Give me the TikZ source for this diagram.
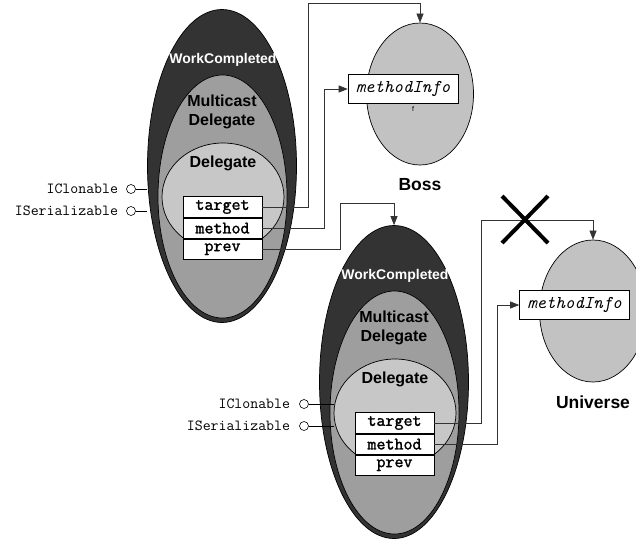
\documentclass[tikz,border=0pt]{standalone}
\usepackage{fontspec}
\setmainfont{Liberation Sans}
\setmonofont{Latin Modern Mono}[AutoFakeBold=1.6]
\usetikzlibrary{shapes.geometric,arrows.meta,positioning}

\definecolor{wcdark}{gray}{0.2}
\definecolor{mcgray}{gray}{0.62}
\definecolor{dlgray}{gray}{0.78}
\definecolor{objgray}{gray}{0.76}

\tikzset{
  blob/.style={ellipse, draw=black, line width=0.7pt, inner sep=0pt},
  wclbl/.style={text=white, font=\fontsize{14}{15}\selectfont\bfseries},
  lbl/.style={align=center, font=\fontsize{16}{19}\selectfont\bfseries},
  objlbl/.style={font=\fontsize{17.5}{18}\selectfont\bfseries},
  field/.style={draw=black, fill=white, line width=0.6pt, minimum width=79pt,
    minimum height=20.5pt, inner sep=0pt, font=\fontsize{17.5}{17.5}\selectfont\ttfamily\bfseries},
  infobox/.style={draw=black, fill=white, line width=0.6pt, minimum width=110pt,
    minimum height=29pt, inner sep=0pt, font=\fontsize{18}{18}\selectfont\ttfamily\itshape},
  lolli/.style={circle, draw=black, fill=white, line width=0.6pt, minimum size=9pt, inner sep=0pt},
  iface/.style={inner sep=0pt, font=\fontsize{15.4}{16}\selectfont\ttfamily},
  conn/.style={draw=black!80, line width=0.6pt, -{Triangle[length=9pt,width=7pt]}},
  stub/.style={draw=black, line width=0.6pt},
  cross/.style={line width=4pt, draw=black},
}

\begin{document}
\begin{tikzpicture}[x=1pt,y=-1pt]
\useasboundingbox (0,0) rectangle (636,539);

% first object
\node[blob, fill=wcdark, minimum width=149pt, minimum height=313pt] (outer1) at (222,166) {};
\node[blob, fill=mcgray, minimum width=129pt, minimum height=243pt] (mc1) at (222.5,196.5) {};
\node[blob, fill=dlgray, minimum width=122pt, minimum height=108pt] (dg1) at (223,197) {};
\node[wclbl] at (223,60) {WorkCompleted};
\node[lbl] at (222,112) {Multicast\\Delegate};
\node[lbl] at (223,163) {Delegate};
\node[field] (t1) at (222.5,207) {target};
\node[field, below=0pt of t1] (m1) {method};
\node[field, below=0pt of m1] (p1) {prev};
\node[lolli] (ic1) at (131,189) {};
\node[lolli] (is1) at (131,211) {};
\node[iface, left=8pt of ic1] {IClonable};
\node[iface, left=8pt of is1] {ISerializable};
\draw[stub] (ic1.east) -- (outer1.west |- ic1);
\draw[stub] (is1.east) -- (outer1.west |- is1);

% second object
\begin{scope}[shift={(172,216)}]
\node[blob, fill=wcdark, minimum width=149pt, minimum height=313pt] (outer2) at (222,166) {};
\node[blob, fill=mcgray, minimum width=129pt, minimum height=243pt] (mc2) at (222.5,196.5) {};
\node[blob, fill=dlgray, minimum width=122pt, minimum height=108pt] (dg2) at (223,197) {};
\node[wclbl] at (223,60) {WorkCompleted};
\node[lbl] at (222,112) {Multicast\\Delegate};
\node[lbl] at (223,163) {Delegate};
\node[field] (t2) at (222.5,207) {target};
\node[field, below=0pt of t2] (m2) {method};
\node[field, below=0pt of m2] (p2) {prev};
\node[lolli] (ic2) at (132,188) {};
\node[lolli] (is2) at (132,210) {};
\node[iface, left=9pt of ic2] {IClonable};
\node[iface, left=9pt of is2] {ISerializable};
\draw[stub] (ic2.east) -- (dg2.west |- ic2);
\draw[stub] (is2.east) -- (dg2.west |- is2);
\end{scope}

% Boss
\node[blob, fill=objgray, minimum width=107pt, minimum height=142pt] (boss) at (420,94) {};
\node[infobox] (mi1) at (403,89) {methodInfo};
\node[font=\fontsize{7}{7}\selectfont] at (413,109) {f};
\node[objlbl] at (420,185) {Boss};

% Universe
\node[blob, fill=objgray, minimum width=107pt, minimum height=142pt] (univ) at (593,311) {};
\node[infobox] (mi2) at (574.5,305) {methodInfo};
\node[objlbl] at (593,402) {Universe};

% connectors
\draw[conn] (t1.east) -- ++(46,0) |- ([yshift=19pt]boss.north) -- (boss.north);
\draw[conn] (m1.east) -- ++(62,0) |- (mi1.west);
\draw[conn] (p1.east) -- ++(78,0) |- ([yshift=22pt]outer2.north) -- (outer2.north);
\draw[conn] (t2.east) -- ++(47,0) |- ([yshift=19pt]univ.north) -- (univ.north);
\draw[conn] (m2.east) -- ++(63,0) |- (mi2.west);

% broken link
\draw[cross] (502,196) -- (548,243);
\draw[cross] (548,196) -- (502,243);
\end{tikzpicture}
\end{document}
